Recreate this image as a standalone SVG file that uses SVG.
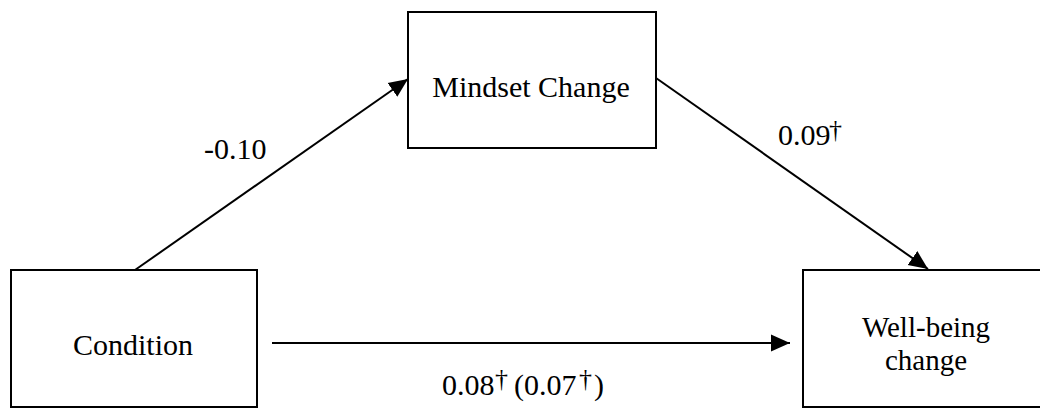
<svg xmlns="http://www.w3.org/2000/svg" width="1040" height="408" viewBox="0 0 1040 408">
<style>
.box{fill:#fff;stroke:#000;stroke-width:2}
.lbl{font-family:"Liberation Serif","Times New Roman",serif;font-size:30px;fill:#000}
.conn{stroke:#000;stroke-width:2;fill:none;marker-end:url(#arr)}
.dag{font-size:26px}
</style>
<defs>
<marker id="arr" markerUnits="userSpaceOnUse" markerWidth="20" markerHeight="18" refX="19" refY="9" orient="auto">
<path d="M0,0.5 L19,9 L0,17.5 z" fill="#000"/>
</marker>
</defs>
<rect width="1040" height="408" fill="#fff"/>
<g id="connectors">
<line class="conn" x1="135" y1="270" x2="408" y2="79"/>
<line class="conn" x1="656" y1="78" x2="928" y2="269"/>
<line class="conn" x1="272" y1="343" x2="790" y2="343"/>
</g>
<g id="mindset">
<rect class="box" x="408" y="12" width="248" height="136"/>
<text class="lbl" x="531" y="97" text-anchor="middle">Mindset Change</text>
</g>
<g id="condition">
<rect class="box" x="11" y="270" width="246" height="137"/>
<text class="lbl" x="133" y="355" text-anchor="middle">Condition</text>
</g>
<g id="wellbeing">
<rect class="box" x="803" y="270" width="260" height="137"/>
<text class="lbl" x="926" y="337" text-anchor="middle" style="font-size:29px">Well-being</text>
<text class="lbl" x="926" y="370" text-anchor="middle" style="font-size:29px">change</text>
</g>
<g id="labels">
<text class="lbl" x="204" y="159">-0.10</text>
<text class="lbl" x="778" y="145">0.09<tspan class="dag" x="829" y="138">†</tspan></text>
<text class="lbl" x="442" y="395">0.08<tspan class="dag" x="495" y="387">†</tspan><tspan x="514" y="395">(0.07</tspan><tspan class="dag" x="579" y="387">†</tspan><tspan x="594" y="395">)</tspan></text>
</g>
</svg>
